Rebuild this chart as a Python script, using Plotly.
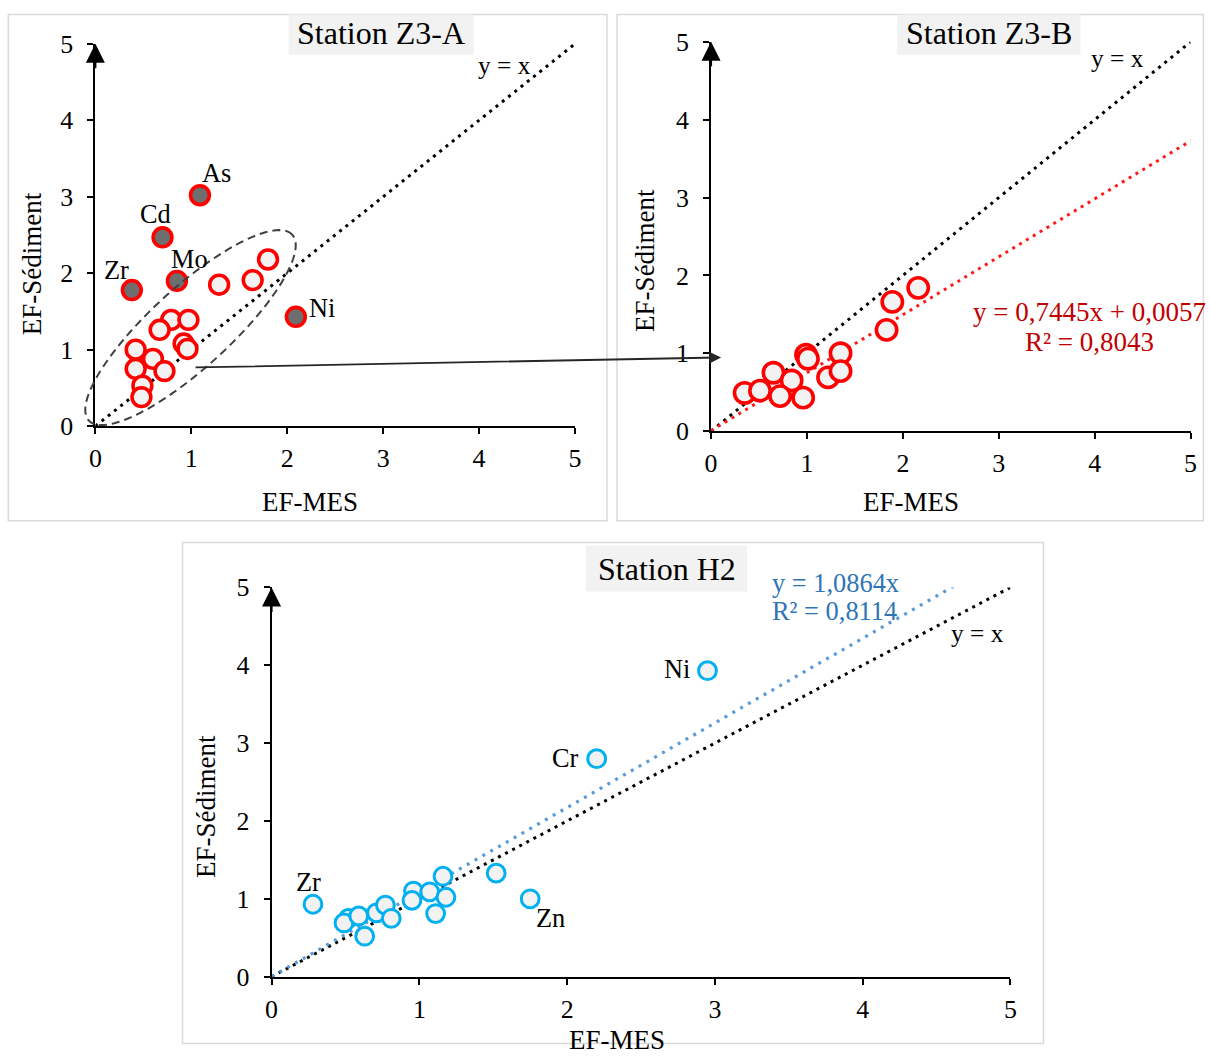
import numpy as np
import plotly.graph_objects as go

# ---------------- data ----------------
# Station Z3-A : unlabelled elements (EF-MES, EF-Sédiment)
a_open_x = [1.80, 1.64, 1.29, 0.79, 0.97, 0.67, 0.92, 0.96, 0.42, 0.60, 0.42, 0.72, 0.49, 0.48]
a_open_y = [2.18, 1.91, 1.85, 1.39, 1.39, 1.26, 1.08, 1.01, 1.00, 0.88, 0.75, 0.72, 0.53, 0.38]
# Station Z3-A : labelled elements
a_lab_names = ["As", "Cd", "Mo", "Zr", "Ni"]
a_lab_x = [1.09, 0.70, 0.85, 0.38, 2.09]
a_lab_y = [3.02, 2.47, 1.90, 1.78, 1.43]

# Station Z3-B
b_x = [2.16, 1.89, 1.83, 0.99, 1.01, 1.35, 1.22, 1.35, 0.65, 0.84, 0.35, 0.51, 0.72, 0.96]
b_y = [1.84, 1.66, 1.30, 0.98, 0.93, 1.00, 0.69, 0.77, 0.75, 0.65, 0.49, 0.52, 0.45, 0.43]
b_slope, b_intercept = 0.7445, 0.0057
b_eq = ["y = 0,7445x + 0,0057", "R² = 0,8043"]

# Station H2
h_x = [0.52, 0.49, 0.59, 0.63, 0.71, 0.77, 0.81, 0.96, 0.95, 1.07, 1.11, 1.16, 1.18, 1.52]
h_y = [0.75, 0.69, 0.78, 0.52, 0.82, 0.92, 0.75, 1.10, 0.98, 1.09, 0.81, 1.29, 1.02, 1.33]
h_lab_names = ["Zr", "Zn", "Cr", "Ni"]
h_lab_x = [0.28, 1.75, 2.20, 2.95]
h_lab_y = [0.93, 1.00, 2.80, 3.93]
h_slope = 1.0864
h_fit_xmax = 4.62
h_eq = ["y = 1,0864x", "R² = 0,8114"]

ticks = [0, 1, 2, 3, 4, 5]
x_title = "EF-MES"
y_title = "EF-Sédiment"
titles = ["Station Z3-A", "Station Z3-B", "Station H2"]

# ---------------- layout helpers ----------------
W, H = 1210, 1059
FONT = "Liberation Serif, Times New Roman, serif"
# compensation of the capture framing (target pixel -> figure pixel)
SX, BX, SY, BY = 0.989, 6.7, 0.977, 12.0
K = 1 / 0.983  # size compensation


def fx(p):
    v = (p - BX) / SX / W
    return min(max(v, 0.0005), 0.9995)


def fy(p):
    v = 1 - (p - BY) / SY / H
    return min(max(v, 0.0005), 0.9995)


def fs(s):
    return round(s * K, 1)


RED = "#ff0000"
FILL = "#f2f2f2"
GREY = "#6e6e6e"
CYAN = "#00b0f0"

fig = go.Figure()

# y = x reference lines
for xa, ya in [("x", "y"), ("x2", "y2"), ("x3", "y3")]:
    fig.add_trace(go.Scatter(x=[0, 5], y=[0, 5], mode="lines", xaxis=xa, yaxis=ya,
                             line=dict(color="black", width=3, dash="3px,5px"),
                             hoverinfo="skip", showlegend=False))

# Z3-B regression
fig.add_trace(go.Scatter(x=[0, 5], y=[b_intercept, b_slope * 5 + b_intercept], mode="lines",
                         xaxis="x2", yaxis="y2",
                         line=dict(color="#ff1a1a", width=3, dash="3px,5px"),
                         hoverinfo="skip", showlegend=False))
# H2 regression
fig.add_trace(go.Scatter(x=[0, h_fit_xmax], y=[0, h_slope * h_fit_xmax], mode="lines",
                         xaxis="x3", yaxis="y3",
                         line=dict(color="#5b9bd5", width=3.2, dash="3px,6px"),
                         hoverinfo="skip", showlegend=False))

# Z3-A points
fig.add_trace(go.Scatter(x=a_open_x, y=a_open_y, mode="markers", xaxis="x", yaxis="y",
                         marker=dict(size=fs(18.5), color=FILL, line=dict(color=RED, width=3.6)),
                         showlegend=False))
fig.add_trace(go.Scatter(x=a_lab_x, y=a_lab_y, mode="markers", xaxis="x", yaxis="y",
                         text=a_lab_names,
                         marker=dict(size=fs(18.5), color=GREY, line=dict(color=RED, width=3.6)),
                         showlegend=False))
# Z3-B points
fig.add_trace(go.Scatter(x=b_x, y=b_y, mode="markers", xaxis="x2", yaxis="y2",
                         marker=dict(size=fs(20), color=FILL, line=dict(color=RED, width=3.6)),
                         showlegend=False))
# H2 points
fig.add_trace(go.Scatter(x=h_x + h_lab_x, y=h_y + h_lab_y, mode="markers", xaxis="x3", yaxis="y3",
                         marker=dict(size=fs(17.5), color=FILL, line=dict(color=CYAN, width=3)),
                         showlegend=False))

axis_common = dict(range=[0, 5], tickvals=ticks, ticktext=[str(t) for t in ticks],
                   showline=True, linecolor="black", linewidth=2, ticks="outside",
                   ticklen=6, tickwidth=2, tickcolor="black", showgrid=False, zeroline=False,
                   tickfont=dict(family=FONT, size=fs(25.5), color="black"), fixedrange=True)

fig.update_layout(
    width=W, height=H, margin=dict(l=0, r=0, t=0, b=0),
    paper_bgcolor="white", plot_bgcolor="rgba(0,0,0,0)",
    font=dict(family=FONT, color="black"),
    xaxis=dict(domain=[fx(96), fx(575)], anchor="y", ticklabelstandoff=2, **axis_common),
    yaxis=dict(domain=[fy(426), fy(42)], anchor="x", ticklabelstandoff=9, **axis_common),
    xaxis2=dict(domain=[fx(711), fx(1190)], anchor="y2", ticklabelstandoff=2, **axis_common),
    yaxis2=dict(domain=[fy(431), fy(40)], anchor="x2", ticklabelstandoff=9, **axis_common),
    xaxis3=dict(domain=[fx(272), fx(1010)], anchor="y3", ticklabelstandoff=2, **axis_common),
    yaxis3=dict(domain=[fy(979), fy(588)], anchor="x3", ticklabelstandoff=9, **axis_common),
)

shapes = []
# panel borders
for (x0, y0, x1, y1) in [(9, 9, 607, 521), (617, 9, 1209, 521), (183, 543, 1043, 1058)]:
    shapes.append(dict(type="rect", xref="paper", yref="paper", x0=fx(x0), x1=fx(x1),
                       y0=fy(y1), y1=fy(y0), line=dict(color="#d9d9d9", width=1.5),
                       layer="below"))

# dashed ellipse around the grouped points of Z3-A (target-pixel space)
cxp, cyp, a_half, b_half, ang = 191, 327, 138, 40, np.deg2rad(42.6)
t = np.linspace(0, 2 * np.pi, 120)
ex = cxp + a_half * np.cos(t) * np.cos(ang) - b_half * np.sin(t) * np.sin(ang)
ey = cyp - (a_half * np.cos(t) * np.sin(ang) + b_half * np.sin(t) * np.cos(ang))
path = "M " + " L ".join(f"{fx(px):.5f},{fy(py):.5f}" for px, py in zip(ex, ey)) + " Z"
shapes.append(dict(type="path", xref="paper", yref="paper", path=path,
                   line=dict(color="#404040", width=2, dash="8px,5px")))

ann = []
# title boxes
for txt, (x0, x1, y0, y1) in zip(titles, [(289, 474, 9, 53), (897, 1080, 9, 53), (586, 747, 546, 592)]):
    shapes.append(dict(type="rect", xref="paper", yref="paper", x0=fx(x0), x1=fx(x1),
                       y0=fy(y1), y1=fy(y0), line=dict(width=0), fillcolor="#f2f2f2",
                       layer="below"))
    ann.append(dict(text=txt, xref="paper", yref="paper", x=fx((x0 + x1) / 2), y=fy((y0 + y1) / 2),
                    showarrow=False, font=dict(family=FONT, size=fs(31.5), color="black"),
                    xanchor="center", yanchor="middle"))
fig.update_layout(shapes=shapes)

# axis titles
for (xp, yp) in [(310, 502), (911, 502), (617, 1043)]:
    ann.append(dict(text=x_title, xref="paper", yref="paper", x=fx(xp), y=fy(yp), showarrow=False,
                    font=dict(family=FONT, size=fs(26.5), color="black"), xanchor="center", yanchor="middle"))
for (xp, yp) in [(33, 263), (645, 259), (207, 808)]:
    ann.append(dict(text=y_title, xref="paper", yref="paper", x=fx(xp), y=fy(yp), showarrow=False,
                    textangle=-90, font=dict(family=FONT, size=fs(26.5), color="black"),
                    xanchor="center", yanchor="middle"))

# y-axis arrow heads
for xr, yr in [("x", "y"), ("x2", "y2"), ("x3", "y3")]:
    ann.append(dict(x=0, y=5, xref=xr, yref=yr, ax=0, ay=26, axref="pixel", ayref="pixel",
                    showarrow=True, arrowhead=2, arrowsize=1.9, arrowwidth=2, arrowcolor="black",
                    text=""))

# y = x labels
for (xp, yp) in [(505, 63), (1117, 56), (977, 634)]:
    ann.append(dict(text="y = x", xref="paper", yref="paper", x=fx(xp), y=fy(yp), showarrow=False,
                    font=dict(family=FONT, size=fs(25), color="black"), xanchor="center", yanchor="middle"))

# Z3-A point labels
a_off = {"As": (17, 22), "Cd": (-7, 23), "Mo": (13, 22), "Zr": (-15, 20), "Ni": (26, 9)}
for n, xv, yv in zip(a_lab_names, a_lab_x, a_lab_y):
    dx, dy = a_off[n]
    ann.append(dict(text=n, x=xv, y=yv, xref="x", yref="y", showarrow=False, xshift=dx, yshift=dy,
                    font=dict(family=FONT, size=fs(26), color="black")))
# H2 point labels
h_off = {"Zr": (-4, 22), "Zn": (20, -19), "Cr": (-31, 1), "Ni": (-30, 2)}
for n, xv, yv in zip(h_lab_names, h_lab_x, h_lab_y):
    dx, dy = h_off[n]
    ann.append(dict(text=n, x=xv, y=yv, xref="x3", yref="y3", showarrow=False, xshift=dx, yshift=dy,
                    font=dict(family=FONT, size=fs(26), color="black")))

# regression equations
ann.append(dict(text=b_eq[0], xref="paper", yref="paper", x=fx(1089), y=fy(311), showarrow=False,
                font=dict(family=FONT, size=fs(26.5), color="#c00000"), xanchor="center", yanchor="middle"))
ann.append(dict(text=b_eq[1], xref="paper", yref="paper", x=fx(1089), y=fy(341), showarrow=False,
                font=dict(family=FONT, size=fs(26.5), color="#c00000"), xanchor="center", yanchor="middle"))
ann.append(dict(text=h_eq[0], xref="paper", yref="paper", x=fx(770), y=fy(584), showarrow=False,
                font=dict(family=FONT, size=fs(26), color="#2e75b6"), xanchor="left", yanchor="middle"))
ann.append(dict(text=h_eq[1], xref="paper", yref="paper", x=fx(770), y=fy(612), showarrow=False,
                font=dict(family=FONT, size=fs(26), color="#2e75b6"), xanchor="left", yanchor="middle"))

# arrow linking Z3-A group to Z3-B
ann.append(dict(x=fx(721), y=fy(357), xref="paper", yref="paper",
                ax=round((200 - 721) / SX), ay=round((367 - 357) / SY),
                axref="pixel", ayref="pixel", showarrow=True, arrowhead=2, arrowsize=1.3,
                arrowwidth=1.8, arrowcolor="#262626", text="", standoff=0))

fig.update_layout(annotations=ann)

fig.write_html(
    "out.html",
    config={"displayModeBar": False},
    post_script="document.body.style.margin='0';document.documentElement.style.overflow='hidden';",
)
